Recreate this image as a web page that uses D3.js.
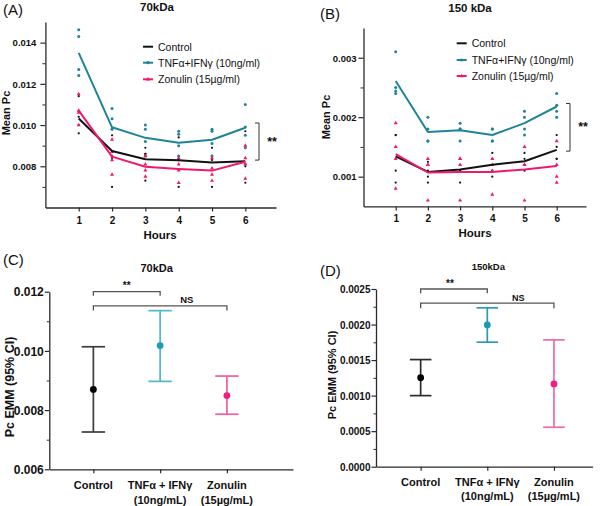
<!DOCTYPE html>
<html><head><meta charset="utf-8">
<script src="https://cdn.jsdelivr.net/npm/d3@7"></script>
<style>
body{margin:0;background:#fff}
svg{display:block}
text{font-family:"Liberation Sans",Arial,Helvetica,sans-serif;fill:#111}
</style>
</head><body>
<svg id="chart" width="600" height="506"></svg>
<script>
// ---------------- DATA ----------------
const hours = [1, 2, 3, 4, 5, 6];
const seriesNames = ["Control", "TNFα+IFNγ (10ng/ml)", "Zonulin (15µg/ml)"];

// Panel A (70kDa) – mean Pc per hour
const aControlMean = [0.01032, 0.00874, 0.00834, 0.00829, 0.00818, 0.00824];
const aTnfMean     = [0.01350, 0.00989, 0.00938, 0.00914, 0.00929, 0.00987];
const aZonMean     = [0.01070, 0.00847, 0.00798, 0.00787, 0.00779, 0.00822];
// Panel A replicate points per hour
const aControlPts = [[0.0114,0.0104,0.0100,0.0096],[0.0098,0.0095,0.0084,0.0070],[0.0089,0.0086,0.0086,0.0073],[0.0094,0.0085,0.0083,0.0070],[0.0089,0.0085,0.0083,0.0070],[0.0097,0.0081,0.0080,0.0072]];
const aTnfPts     = [[0.01463,0.0143,0.0127,0.0124],[0.0108,0.0103,0.0098,0.0085],[0.0100,0.0098,0.0092,0.0085],[0.0097,0.00955,0.0090,0.0085],[0.0098,0.0097,0.0091,0.0085],[0.0110,0.0099,0.0095,0.0089]];
const aZonPts     = [[0.0115,0.0107,0.0106,0.0100],[0.0093,0.0087,0.0083,0.0076],[0.0085,0.0081,0.0078,0.0075],[0.0084,0.0081,0.0078,0.0072],[0.0084,0.0079,0.0076,0.0073],[0.0090,0.0084,0.0081,0.0074]];
const aYTicks = [0.008, 0.010, 0.012, 0.014];
const aYMinor = [0.007, 0.009, 0.011, 0.013];

// Panel B (150 kDa)
const bControlMean = [0.00134, 0.00108, 0.00112, 0.00120, 0.00126, 0.00145];
const bTnfMean     = [0.00261, 0.00175, 0.00178, 0.00170, 0.00190, 0.00218];
const bZonMean     = [0.00138, 0.00107, 0.00108, 0.00108, 0.00112, 0.00118];
const bControlPts = [[0.0017,0.0017,0.0011,0.0009],[0.00125,0.0011,0.0010,0.0009],[0.0013,0.0012,0.0011,0.0009],[0.0014,0.0013,0.0011,0.0010],[0.0014,0.0013,0.0012,0.0011],[0.0017,0.0015,0.0013,0.0013]];
const bTnfPts     = [[0.0031,0.0025,0.00244,0.0024],[0.0020,0.0018,0.0016,0.0016],[0.0019,0.0018,0.0018,0.0016],[0.0018,0.0018,0.0016,0.0016],[0.0021,0.0020,0.0018,0.0017],[0.0024,0.0022,0.0021,0.0020]];
const bZonPts     = [[0.0019,0.0015,0.0013,0.0008],[0.0013,0.0012,0.0012,0.0006],[0.0013,0.0013,0.0012,0.0006],[0.0013,0.0012,0.0011,0.0007],[0.0015,0.0012,0.0012,0.0006],[0.0016,0.0012,0.0010,0.0009]];
const bYTicks = [0.001, 0.002, 0.003];
const bYMinor = [0.0015, 0.0025];

// Panels C & D – estimated marginal means with 95% CI
const groupLabels = [["Control"], ["TNFα + IFNγ", "(10ng/mL)"], ["Zonulin", "(15µg/mL)"]];
const cMean = [0.00870, 0.01018, 0.00849];
const cLow  = [0.00726, 0.00897, 0.00786];
const cHigh = [0.01014, 0.01136, 0.00915];
const cYTicks = [0.006, 0.008, 0.010, 0.012];
const cYMinor = [0.007, 0.009, 0.011];

const dMean = [0.001253, 0.001995, 0.001164];
const dLow  = [0.001000, 0.001752, 0.000555];
const dHigh = [0.001507, 0.002235, 0.001784];
const dYTicks = [0.0000, 0.0005, 0.0010, 0.0015, 0.0020, 0.0025];
const dYMinor = [0.00025, 0.00075, 0.00125, 0.00175, 0.00225];

// ---------------- DRAW ----------------
const svg = d3.select("#chart");
const C = { ctrl: "#111111", tnf: "#1f8498", zon: "#f0186e" };
const AX = "#2a2a2a";

function txt(x, y, s, o = {}) {
  const t = svg.append("text").attr("x", x).attr("y", y)
    .attr("dominant-baseline", "central")
    .attr("text-anchor", o.anchor || "middle")
    .attr("font-size", o.size || 10)
    .attr("font-weight", o.weight || "bold")
    .text(s);
  if (o.rotate) t.attr("transform", `rotate(-90,${x},${y})`);
  return t;
}

function styleAxis(g, fs) {
  g.select(".domain").attr("stroke", AX).attr("stroke-width", 1.3);
  g.selectAll(".tick line").attr("stroke", AX).attr("stroke-width", 1.2);
  g.selectAll(".tick text").attr("font-size", fs).attr("font-weight", "bold").attr("fill", "#111")
    .attr("font-family", '"Liberation Sans",Arial,sans-serif');
}

function timePanel(cfg) {
  const x = d3.scaleLinear().domain(cfg.xDomain).range(cfg.xRange);
  const y = d3.scaleLinear().domain(cfg.yDomain).range(cfg.yRange);
  const g = svg.append("g");

  const ya = g.append("g").attr("transform", `translate(${cfg.xRange[0]},0)`)
    .call(d3.axisLeft(y).tickValues(cfg.yTicks).tickFormat(d3.format(cfg.fmt)).tickSize(5).tickSizeOuter(0).tickPadding(cfg.ypad));
  styleAxis(ya, 9.5);
  ya.selectAll(".tick text").attr("dy", "0.35em");
  const ym = g.append("g").attr("transform", `translate(${cfg.xRange[0]},0)`)
    .call(d3.axisLeft(y).tickValues(cfg.yMinor).tickFormat("").tickSize(3).tickSizeOuter(0));
  ym.select(".domain").remove();
  ym.selectAll(".tick line").attr("stroke", AX).attr("stroke-width", 1);

  const xa = g.append("g").attr("transform", `translate(0,${cfg.yRange[0]})`)
    .call(d3.axisBottom(x).tickValues(hours).tickFormat(d3.format("d")).tickSize(4).tickSizeOuter(0));
  styleAxis(xa, 10);
  xa.selectAll(".tick text").attr("y", cfg.xLabOff).attr("dy", "0.35em");

  const series = [
    { pts: cfg.ctrlPts, mean: cfg.ctrlMean, col: C.ctrl, sym: "dot" },
    { pts: cfg.tnfPts, mean: cfg.tnfMean, col: C.tnf, sym: "circle" },
    { pts: cfg.zonPts, mean: cfg.zonMean, col: C.zon, sym: "tri" }
  ];
  const tri = d3.symbol().type(d3.symbolTriangle).size(7);
  series.forEach(s => {
    const flat = [];
    s.pts.forEach((arr, i) => arr.forEach(v => flat.push({ h: hours[i], v })));
    if (s.sym === "tri") {
      g.append("g").selectAll("path").data(flat).join("path")
        .attr("d", tri).attr("transform", d => `translate(${x(d.h)},${y(d.v)})`).attr("fill", s.col);
    } else {
      g.append("g").selectAll("circle").data(flat).join("circle")
        .attr("cx", d => x(d.h)).attr("cy", d => y(d.v))
        .attr("r", s.sym === "dot" ? 1.1 : 1.5).attr("fill", s.col);
    }
  });
  const line = d3.line().x((d, i) => x(hours[i])).y(d => y(d));
  series.forEach(s => {
    g.append("path").datum(s.mean).attr("d", line).attr("fill", "none")
      .attr("stroke", s.col).attr("stroke-width", 2).attr("stroke-linejoin", "round");
  });

  // legend
  const L = cfg.legend;
  series.forEach((s, i) => {
    const ly = L.y[i];
    g.append("line").attr("x1", L.x).attr("x2", L.x + 10).attr("y1", ly).attr("y2", ly)
      .attr("stroke", s.col).attr("stroke-width", 2);
    if (s.sym === "circle") g.append("circle").attr("cx", L.x + 5).attr("cy", ly).attr("r", 1.6).attr("fill", s.col);
    if (s.sym === "tri") g.append("path").attr("d", tri).attr("transform", `translate(${L.x + 5},${ly})`).attr("fill", s.col);
    txt(L.x + 15, ly, seriesNames[i], { anchor: "start", size: 10.5, weight: "normal" });
  });

  // significance bracket
  const B = cfg.bracket;
  const y1 = y(B.top), y2 = y(B.bottom);
  g.append("path").attr("d", `M${B.x - 4},${y1}H${B.x}V${y2}H${B.x - 4}`)
    .attr("fill", "none").attr("stroke", "#333").attr("stroke-width", 1);
  txt(B.x + 13, (y1 + y2) / 2, "**", { size: 12.5 });
}

timePanel({
  xDomain: [0, 6.92], xRange: [45.4, 276],
  yDomain: [0.006, 0.015], yRange: [207.5, 22],
  yTicks: aYTicks, yMinor: aYMinor, fmt: ".3f", ypad: 4, xLabOff: 13,
  ctrlPts: aControlPts, tnfPts: aTnfPts, zonPts: aZonPts,
  ctrlMean: aControlMean, tnfMean: aTnfMean, zonMean: aZonMean,
  legend: { x: 143, y: [46.7, 62.7, 79.3] },
  bracket: { x: 259, top: 0.0101, bottom: 0.0083 }
});
timePanel({
  xDomain: [0, 6.91], xRange: [363.5, 586],
  yDomain: [0.0005, 0.0035], yRange: [206.4, 28],
  yTicks: bYTicks, yMinor: bYMinor, fmt: ".3f", ypad: 2, xLabOff: 12,
  ctrlPts: bControlPts, tnfPts: bTnfPts, zonPts: bZonPts,
  ctrlMean: bControlMean, tnfMean: bTnfMean, zonMean: bZonMean,
  legend: { x: 456.7, y: [43.3, 60, 76] },
  bracket: { x: 570, top: 0.00223, bottom: 0.00143 }
});

function emmPanel(cfg) {
  const x = d3.scaleLinear().domain(cfg.xDomain).range(cfg.xRange);
  const y = d3.scaleLinear().domain(cfg.yDomain).range(cfg.yRange);
  const g = svg.append("g");
  const ya = g.append("g").attr("transform", `translate(${cfg.xRange[0]},0)`)
    .call(d3.axisLeft(y).tickValues(cfg.yTicks).tickFormat(d3.format(cfg.fmt)).tickSize(4.5).tickSizeOuter(0).tickPadding(1));
  styleAxis(ya, cfg.tickFs);
  ya.selectAll(".tick text").attr("dy", "0.35em");
  const ym = g.append("g").attr("transform", `translate(${cfg.xRange[0]},0)`)
    .call(d3.axisLeft(y).tickValues(cfg.yMinor).tickFormat("").tickSize(2.5).tickSizeOuter(0));
  ym.select(".domain").remove();
  ym.selectAll(".tick line").attr("stroke", AX).attr("stroke-width", 1);

  const idx = [0, 1, 2];
  const xa = g.append("g").attr("transform", `translate(0,${cfg.yRange[0]})`)
    .call(d3.axisBottom(x).tickValues(idx).tickFormat("").tickSize(4).tickSizeOuter(0));
  styleAxis(xa, 10);
  idx.forEach(i => {
    groupLabels[i].forEach((s, k) => txt(x(i), cfg.labY[k], s, { size: 11 }));
  });

  const barCols = cfg.barCols, dotCols = cfg.dotCols;
  idx.forEach(i => {
    const gx = x(i);
    g.append("line").attr("x1", gx).attr("x2", gx).attr("y1", y(cfg.low[i])).attr("y2", y(cfg.high[i]))
      .attr("stroke", barCols[i]).attr("stroke-width", 1.7);
    [cfg.low[i], cfg.high[i]].forEach(v => {
      g.append("line").attr("x1", gx - cfg.cap).attr("x2", gx + cfg.cap).attr("y1", y(v)).attr("y2", y(v))
        .attr("stroke", barCols[i]).attr("stroke-width", 1.7);
    });
    g.append("circle").attr("cx", gx).attr("cy", y(cfg.mean[i])).attr("r", 3.4).attr("fill", dotCols[i]);
  });

  // brackets
  cfg.brackets.forEach(b => {
    const by = y(b.v);
    g.append("path").attr("d", `M${x(b.from)},${by + b.drop}V${by}H${x(b.to)}V${by + b.drop}`)
      .attr("fill", "none").attr("stroke", "#555").attr("stroke-width", 1.3);
    txt((x(b.from) + x(b.to)) / 2 + b.dx, by + b.ty, b.label, { size: b.size });
  });
}

emmPanel({
  xDomain: [-0.66, 2.99], xRange: [49.3, 293],
  yDomain: [0.006, 0.012], yRange: [469.3, 291.7],
  yTicks: cYTicks, yMinor: cYMinor, fmt: ".3f", tickFs: 12,
  mean: cMean, low: cLow, high: cHigh, cap: 11.7,
  labY: [485, 499.5],
  barCols: ["#3c3c3c", "#52b6ca", "#f25ca2"], dotCols: ["#000000", "#1c9db6", "#ee1e86"],
  brackets: [
    { from: 0, to: 1, v: 0.012, drop: 4, label: "**", size: 10, ty: -6, dx: 0 },
    { from: 0, to: 2, v: 0.01152, drop: 4.5, label: "NS", size: 9.5, ty: -6.5, dx: 26.7 }
  ]
});
emmPanel({
  xDomain: [-0.67, 2.58], xRange: [376, 592.6],
  yDomain: [0, 0.0025], yRange: [466.7, 289],
  yTicks: dYTicks, yMinor: dYMinor, fmt: ".4f", tickFs: 10,
  mean: dMean, low: dLow, high: dHigh, cap: 10.8,
  labY: [482.3, 496],
  barCols: ["#2b2b2b", "#2a9cb1", "#f069a8"], dotCols: ["#000000", "#1a9ab2", "#ee1e86"],
  brackets: [
    { from: 0, to: 1, v: 0.0025, drop: 4.3, label: "**", size: 10, ty: -6, dx: -4 },
    { from: 0, to: 2, v: 0.0023, drop: 5, label: "NS", size: 9, ty: -5.5, dx: 31 }
  ]
});

// panel letters, titles, axis titles
txt(3, 9, "(A)", { anchor: "start", size: 15, weight: "normal" });
txt(320, 13.3, "(B)", { anchor: "start", size: 15, weight: "normal" });
txt(3, 259, "(C)", { anchor: "start", size: 15, weight: "normal" });
txt(320, 270, "(D)", { anchor: "start", size: 15, weight: "normal" });

txt(157, 7, "70kDa", { size: 11.5 });
txt(470, 8.3, "150 kDa", { size: 11.5 });
txt(156.7, 268.3, "70kDa", { size: 11 });
txt(488.3, 266.7, "150kDa", { size: 9.5 });

txt(6, 113, "Mean Pc", { size: 11, rotate: true });
txt(326, 117, "Mean Pc", { size: 11, rotate: true });
txt(10, 387, "Pc EMM (95% CI)", { size: 12.5, rotate: true });
txt(331.7, 375, "Pc EMM (95% CI)", { size: 11, rotate: true });

txt(160, 234.7, "Hours", { size: 11.5 });
txt(475, 233, "Hours", { size: 11.5 });
</script>
</body></html>
